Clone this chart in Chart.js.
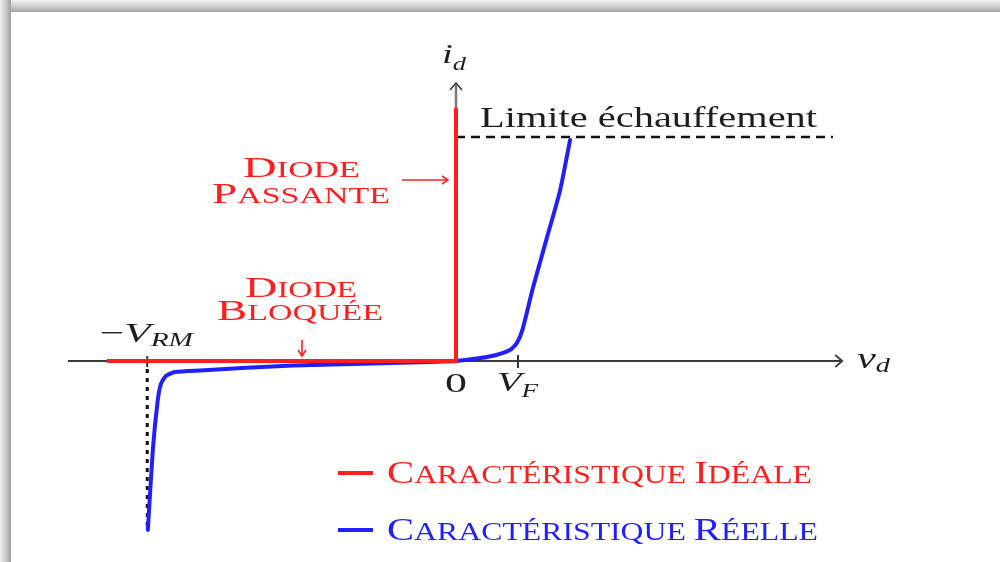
<!DOCTYPE html>
<html>
<head>
<meta charset="utf-8">
<script src="https://cdn.jsdelivr.net/npm/chart.js@4.4.1/dist/chart.umd.min.js"></script>
<style>
  html, body { margin:0; padding:0; background:#fff; width:1000px; height:562px; overflow:hidden; }
  #topband { position:absolute; left:0; top:0; width:1000px; height:12px;
    background: linear-gradient(to bottom, #f2f2f2 0%, #c8c8c8 60%, #a4a4a4 100%); }
  #leftband { position:absolute; left:0; top:0; width:11px; height:562px;
    background: linear-gradient(to right, #f0f0f0 0%, #c4c4c4 60%, #9c9c9c 100%); }
  #c { position:absolute; left:0; top:0; }
</style>
</head>
<body>
<div id="topband"></div>
<div id="leftband"></div>
<canvas id="c" width="1000" height="562"></canvas>
<script>
// ---- Data (units: v in multiples of V_F, i in arbitrary units) ----
const vIdeal = [-5.63, 0, 0];
const iIdeal = [0, 0, 11.3];

const vReal = [-4.97, -4.89, -4.81, -4.76, -4.68, -4.53, -4.13, -2.63, -1.02, 0, 0.39, 0.65, 0.87, 0.98, 1.07, 1.24, 1.47, 1.68, 1.84];
const iReal = [-7.54, -3.97, -1.74, -1.03, -0.67, -0.49, -0.42, -0.20, -0.09, 0, 0.13, 0.27, 0.49, 0.80, 1.38, 3.26, 5.54, 7.63, 9.87];

const VF = 1;
const VRM = 4.98;
const I_LIMIT = 10.0;

const labels = ['Caractéristique Idéale', 'Caractéristique Réelle'];
const xRange = [-6.3, 6.3];
const yRange = [-8, 12.5];

const FONT = "'Liberation Serif', 'DejaVu Serif', serif";
const RED = '#ff1f1f';
const BLUE = '#1f1fff';

function drawRuns(ctx, runs, x, baseline, targetW, color) {
  ctx.save();
  let total = 0;
  runs.forEach(r => { ctx.font = r.font; r.w = ctx.measureText(r.t).width; total += r.w; });
  const sx = targetW ? targetW / total : 1;
  ctx.translate(x, baseline);
  ctx.scale(sx, 1);
  ctx.fillStyle = color;
  ctx.textBaseline = 'alphabetic';
  ctx.textAlign = 'left';
  let cx = 0;
  runs.forEach(r => { ctx.font = r.font; ctx.fillText(r.t, cx, r.dy || 0); cx += r.w; });
  ctx.restore();
}

function smallCapsRuns(text, big, small) {
  const runs = [];
  for (const ch of text) {
    const isUpper = ch !== ch.toLowerCase() || ch === ' ';
    const size = (ch === ' ') ? small : (isUpper ? big : small);
    runs.push({ t: ch.toUpperCase(), font: size + 'px ' + FONT });
  }
  return runs;
}

function arrowHead(ctx, x, y, dir, len, spread) {
  ctx.beginPath();
  if (dir === 'right') { ctx.moveTo(x - len, y - spread); ctx.lineTo(x, y); ctx.lineTo(x - len, y + spread); }
  if (dir === 'up') { ctx.moveTo(x - spread, y + len); ctx.lineTo(x, y); ctx.lineTo(x + spread, y + len); }
  if (dir === 'down') { ctx.moveTo(x - spread, y - len); ctx.lineTo(x, y); ctx.lineTo(x + spread, y - len); }
  ctx.stroke();
}

const diagramPlugin = {
  id: 'diagram',
  beforeDatasetsDraw(chart) {
    const ctx = chart.ctx;
    const xs = chart.scales.x, ys = chart.scales.y;
    const X = v => xs.getPixelForValue(v), Y = i => ys.getPixelForValue(i);
    ctx.save();
    ctx.lineCap = 'butt';
    ctx.strokeStyle = '#3a3a3a'; ctx.lineWidth = 2;
    ctx.beginPath(); ctx.moveTo(X(-6.26), Y(0)); ctx.lineTo(X(6.23), Y(0)); ctx.stroke();
    ctx.lineWidth = 1.8;
    arrowHead(ctx, X(6.23), Y(0), 'right', 7, 6);
    ctx.strokeStyle = '#7a7a7a'; ctx.lineWidth = 2.5;
    ctx.beginPath(); ctx.moveTo(X(0), Y(0)); ctx.lineTo(X(0), Y(12.38)); ctx.stroke();
    ctx.strokeStyle = '#444'; ctx.lineWidth = 1.8;
    arrowHead(ctx, X(0), Y(12.41), 'up', 7, 6);
    ctx.strokeStyle = '#333'; ctx.lineWidth = 2;
    ctx.beginPath(); ctx.moveTo(X(VF), Y(0) - 6); ctx.lineTo(X(VF), Y(0) + 7); ctx.stroke();
    ctx.beginPath(); ctx.moveTo(X(-VRM), Y(0) - 5); ctx.lineTo(X(-VRM), Y(0) + 6); ctx.stroke();
    ctx.strokeStyle = '#111'; ctx.lineWidth = 3;
    ctx.setLineDash([4, 5]);
    ctx.beginPath(); ctx.moveTo(X(-VRM), Y(0) + 8); ctx.lineTo(X(-VRM), Y(-7.4)); ctx.stroke();
    ctx.lineWidth = 2.5; ctx.setLineDash([9, 6]);
    ctx.beginPath(); ctx.moveTo(X(0), Y(I_LIMIT)); ctx.lineTo(X(6.08), Y(I_LIMIT)); ctx.stroke();
    ctx.setLineDash([]);
    ctx.restore();
  },
  afterDatasetsDraw(chart) {
    const ctx = chart.ctx;
    const xs = chart.scales.x, ys = chart.scales.y;
    const X = v => xs.getPixelForValue(v), Y = i => ys.getPixelForValue(i);
    const x0 = X(0), y0 = Y(0);
    ctx.save();
    const ink = '#1e1e1e';
    drawRuns(ctx, [{t:'i', font:'italic 28px ' + FONT}, {t:'d', font:'italic 19px ' + FONT, dy:7}], x0 - 14, 63, 24, ink);
    drawRuns(ctx, [{t:'v', font:'italic 30px ' + FONT}, {t:'d', font:'italic 20px ' + FONT, dy:4}], 857, y0 + 7, 33, ink);
    drawRuns(ctx, [{t:'0', font:'28px ' + FONT}], x0 - 11, y0 + 31, 22, ink);
    drawRuns(ctx, [{t:'V', font:'italic 28px ' + FONT}, {t:'F', font:'italic 19px ' + FONT, dy:6}], X(VF) - 21, y0 + 30, 41, ink);
    drawRuns(ctx, [{t:'\u2212', font:'28px ' + FONT}, {t:'V', font:'italic 28px ' + FONT}, {t:'RM', font:'italic 19px ' + FONT, dy:4}], 100, y0 - 19, 93, ink);
    drawRuns(ctx, [{t:'Limite échauffement', font:'30px ' + FONT}], x0 + 24, Y(I_LIMIT) - 10, 337, ink);
    drawRuns(ctx, smallCapsRuns('Diode', 30, 22.5), 243, 177, 117, RED);
    drawRuns(ctx, smallCapsRuns('Passante', 30, 22.5), 212, 203, 178, RED);
    drawRuns(ctx, smallCapsRuns('Diode', 30, 22.5), 245, 297, 112, RED);
    drawRuns(ctx, smallCapsRuns('Bloquée', 30, 22.5), 217, 320, 166, RED);
    ctx.strokeStyle = RED; ctx.lineWidth = 1.6;
    ctx.beginPath(); ctx.moveTo(402, 180); ctx.lineTo(x0 - 8, 180); ctx.stroke();
    arrowHead(ctx, x0 - 8, 180, 'right', 6, 4);
    ctx.beginPath(); ctx.moveTo(302, 340); ctx.lineTo(302, y0 - 5); ctx.stroke();
    arrowHead(ctx, 302, y0 - 5, 'down', 6, 4);
    const ds = chart.data.datasets;
    const legY = [473, 530], legW = [425, 431];
    ds.forEach((d, k) => {
      ctx.strokeStyle = d.borderColor; ctx.lineWidth = 4;
      ctx.beginPath(); ctx.moveTo(338, legY[k]); ctx.lineTo(373, legY[k]); ctx.stroke();
      drawRuns(ctx, smallCapsRuns(d.label, 32, 25), 387, legY[k] + 10, legW[k], d.borderColor);
    });
    ctx.restore();
  }
};

const toPts = (xsArr, ysArr) => xsArr.map((v, k) => ({ x: v, y: ysArr[k] }));

new Chart(document.getElementById('c'), {
  type: 'scatter',
  data: {
    datasets: [
      { label: labels[0], data: toPts(vIdeal, iIdeal), showLine: true, borderColor: RED, borderWidth: 4,
        pointRadius: 0, tension: 0, borderCapStyle: 'butt' },
      { label: labels[1], data: toPts(vReal, iReal), showLine: true, borderColor: BLUE, borderWidth: 4,
        pointRadius: 0, tension: 0.2, borderCapStyle: 'round', borderJoinStyle: 'round' }
    ]
  },
  options: {
    responsive: false,
    devicePixelRatio: 1,
    animation: false,
    layout: { padding: { left: 65.4, right: 153.4, top: 81, bottom: 21.8 } },
    scales: {
      x: { type: 'linear', min: xRange[0], max: xRange[1], display: false },
      y: { type: 'linear', min: yRange[0], max: yRange[1], display: false }
    },
    plugins: { legend: { display: false }, tooltip: { enabled: false } }
  },
  plugins: [diagramPlugin]
});
</script>
</body>
</html>
